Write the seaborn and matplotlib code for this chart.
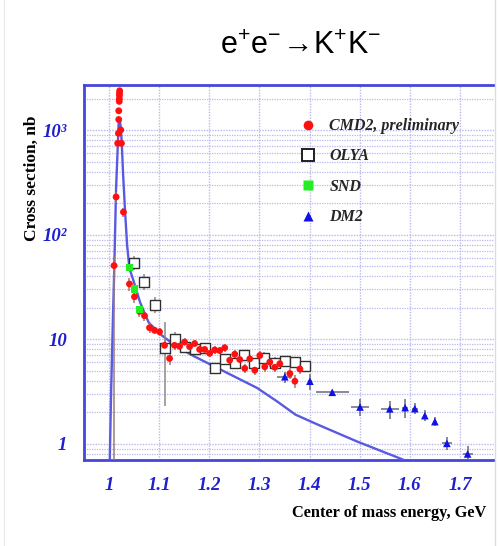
import numpy as np
import pandas as pd
import matplotlib
matplotlib.use("Agg")
import matplotlib.pyplot as plt
from matplotlib.lines import Line2D
from matplotlib.ticker import FixedLocator, NullFormatter, LogLocator
import seaborn as sns

# ---------------- data ----------------
# CMD2, preliminary (red circles)
cmd2_x = [1.0100, 1.0140, 1.0173, 1.0187, 1.0193, 1.0193, 1.0203, 1.0205, 1.0207, 1.0209, 1.0211,
          1.0233, 1.0247, 1.0287, 1.0407, 1.0507, 1.0607, 1.0707, 1.0807, 1.0907, 1.1007,
          1.1107, 1.1207, 1.1307, 1.1407, 1.1507, 1.1607, 1.1707, 1.1807, 1.1907, 1.2007,
          1.2107, 1.2207, 1.2307, 1.2407, 1.2507, 1.2607, 1.2707, 1.2807, 1.2907, 1.3007,
          1.3107, 1.3207, 1.3307, 1.3407, 1.3607, 1.3707, 1.3807]
cmd2_y = [50.7, 230, 750, 935, 1535, 1268, 1888, 2000, 2157, 2268, 2388,
          1007, 750, 165, 33.8, 25.5, 18.5, 16.8, 12.9, 12.2, 11.8,
          8.75, 6.56, 8.75, 8.6, 9.4, 8.5, 9.1, 8.0, 8.0, 7.35,
          7.9, 7.8, 8.3, 6.3, 7.2, 6.4, 5.27, 6.5, 5.07, 7.0,
          5.46, 6.05, 5.4, 5.84, 4.7, 3.97, 5.2]
cmd2_rel = [0.0, 0.12, 0.06, 0.06, 0.05, 0.05, 0.05, 0.05, 0.05, 0.05, 0.05,
            0.06, 0.06, 0.10, 0.15, 0.12, 0.12, 0.10, 0.10, 0.08, 0.08,
            0.12, 0.14, 0.10, 0.08, 0.10, 0.10, 0.08, 0.08, 0.08, 0.08,
            0.08, 0.08, 0.08, 0.10, 0.10, 0.10, 0.10, 0.10, 0.10, 0.10,
            0.10, 0.10, 0.10, 0.10, 0.12, 0.14, 0.10]

# OLYA (open squares)
olya_x = [1.0507, 1.0707, 1.0920, 1.1120, 1.1320, 1.1520, 1.1720, 1.1920, 1.2120, 1.2320,
          1.2520, 1.2700, 1.2900, 1.3100, 1.3307, 1.3507, 1.3707, 1.3907]
olya_y = [53.4, 35.6, 21.2, 8.3, 10.0, 8.5, 8.1, 8.3, 5.27, 6.5,
          5.97, 7.0, 5.88, 6.6, 5.97, 6.2, 6.05, 5.53]
olya_lo = [7, 6, 3.5, 6.0, 1.2, 1.0, 1.0, 1.0, 0.6, 0.8, 0.8, 0.8, 0.7, 0.8, 0.7, 0.7, 0.7, 0.7]
olya_hi = [9, 7, 4.0, 6.2, 1.8, 1.2, 1.0, 1.0, 0.6, 0.8, 0.8, 0.9, 0.7, 0.9, 0.8, 0.7, 0.7, 0.7]

# SND (green squares)
snd_x = [1.0407, 1.0507, 1.0607]
snd_y = [48.9, 30.3, 19.4]

# DM2 (blue triangles)
dm2_x = [1.3507, 1.4007, 1.4453, 1.5007, 1.5600, 1.5907, 1.6100, 1.6300, 1.6500, 1.6740, 1.7153]
dm2_y = [4.38, 3.97, 3.11, 2.25, 2.16, 2.22, 2.17, 1.86, 1.63, 1.01, 0.80]
dm2_rel = [0.12, 0.18, 0.06, 0.18, 0.20, 0.20, 0.12, 0.12, 0.10, 0.14, 0.18]
dm2_xerr = [0.015, 0.004, 0.033, 0.018, 0.018, 0.006, 0.006, 0.004, 0.004, 0.010, 0.010]

# fitted curve (blue line)
fit_x = [1.000, 1.004, 1.008, 1.010, 1.014, 1.018, 1.0195, 1.021, 1.0235, 1.0255, 1.028,
         1.032, 1.036, 1.0405, 1.049, 1.062, 1.079, 1.102, 1.135, 1.169, 1.202, 1.242,
         1.295, 1.335, 1.372, 1.420, 1.4953, 1.5853, 1.600]
fit_y = [0.3, 3, 18, 40, 277, 838, 1305, 1300, 1050, 722, 380,
         165, 80, 48, 36, 22.5, 14.5, 11.2, 8.5, 6.9, 5.75, 4.6,
         3.43, 2.55, 1.9, 1.5, 1.05, 0.71, 0.65]

xticks = [1.0, 1.1, 1.2, 1.3, 1.4, 1.5, 1.6, 1.7]
xticklabels = ["1", "1.1", "1.2", "1.3", "1.4", "1.5", "1.6", "1.7"]
yticks = [1, 10, 100, 1000]
yticklabels = ["1", "10", "10²", "10³"]

# ---------------- styling ----------------
sns.set_style("white")
plt.rcParams["mathtext.fontset"] = "custom"
plt.rcParams["mathtext.rm"] = "Liberation Sans"
plt.rcParams["mathtext.it"] = "Liberation Sans:italic"

AXBLUE = "#4646dc"
GRID = "#b8b8ec"
LBLUE = "#1f1fd0"

fig = plt.figure(figsize=(4.98, 5.46), dpi=100)
ax = fig.add_axes([84 / 498, 1 - 460 / 546, 410 / 498, 375 / 546])
ax.set_yscale("log")
ax.set_xlim(0.95, 1.768)
ax.set_ylim(0.70, 2710)

# grid
ax.set_xticks(xticks)
ax.xaxis.set_minor_locator(FixedLocator(np.round(np.arange(0.96, 1.77, 0.02), 3)))
ax.yaxis.set_minor_locator(LogLocator(base=10, subs=np.arange(2, 10), numticks=20))
ax.yaxis.set_minor_formatter(NullFormatter())
ax.grid(True, which="major", axis="both", color=GRID, ls=(0, (1, 1)), lw=1.0)
ax.grid(True, which="minor", axis="y", color=GRID, ls=(0, (1, 1)), lw=0.9)

# curve
fit_df = pd.DataFrame({"x": fit_x, "y": fit_y})
sns.lineplot(data=fit_df, x="x", y="y", ax=ax, color="#5a5ae0", lw=1.7,
             sort=False, estimator=None, zorder=3)

# error bars
cmd2_x_a = np.array(cmd2_x); cmd2_y_a = np.array(cmd2_y)
cmd2_err = cmd2_y_a * np.array(cmd2_rel)
cmd2_lo = cmd2_err.copy(); cmd2_hi = cmd2_err.copy()
cmd2_lo[0] = cmd2_y_a[0] - 0.3   # very large lower error for the threshold point
cmd2_hi[0] = 12
ax.errorbar(cmd2_x_a, cmd2_y_a, yerr=[cmd2_lo, cmd2_hi], fmt="none",
            ecolor="#9a7a7a", elinewidth=1.1, zorder=4)
ax.errorbar(olya_x, olya_y, yerr=[olya_lo, olya_hi], fmt="none",
            ecolor="#8a8a8a", elinewidth=1.1, zorder=4)
dm2_y_a = np.array(dm2_y)
ax.errorbar(dm2_x, dm2_y, yerr=dm2_y_a * np.array(dm2_rel), xerr=dm2_xerr, fmt="none",
            ecolor="#6a6a7a", elinewidth=1.1, zorder=4)

# markers
sns.scatterplot(x=olya_x, y=olya_y, ax=ax, marker="s", s=46, facecolor="white",
                edgecolor="#303030", linewidth=1.0, zorder=5)
sns.scatterplot(x=cmd2_x, y=cmd2_y, ax=ax, marker="o", s=24, color="#ff1010",
                edgecolor="none", zorder=6)
sns.scatterplot(x=snd_x, y=snd_y, ax=ax, marker="s", s=26, color="#22ee22",
                edgecolor="none", zorder=6)
sns.scatterplot(x=dm2_x, y=dm2_y, ax=ax, marker="^", s=30, color="#1010e8",
                edgecolor="none", zorder=6)

# axes styling
for side in ["top", "bottom", "left"]:
    ax.spines[side].set_color(AXBLUE)
    ax.spines[side].set_linewidth(2.0)
ax.spines["right"].set_visible(False)
ax.tick_params(axis="both", which="both", direction="in", color=AXBLUE)
ax.tick_params(axis="x", which="major", length=8, width=1.0, pad=12)
ax.tick_params(axis="x", which="minor", length=4, width=1.0)
ax.tick_params(axis="y", which="major", length=10, width=1.0, pad=12)
ax.tick_params(axis="y", which="minor", length=5, width=1.0)
ax.set_xticklabels(xticklabels)
ax.set_yticks(yticks)
ax.set_yticklabels(yticklabels)
for lab in ax.get_xticklabels() + ax.get_yticklabels():
    lab.set_fontfamily("Liberation Serif")
    lab.set_fontweight("bold")
    lab.set_fontstyle("italic")
    lab.set_fontsize(13.5)
    lab.set_color(LBLUE)
ax.set_xlabel("")
ax.set_ylabel("")

# legend
handles = [
    Line2D([], [], ls="none", marker="o", ms=7, mfc="#ff1010", mec="none"),
    Line2D([], [], ls="none", marker="s", ms=8, mfc="white", mec="#202020", mew=1.4),
    Line2D([], [], ls="none", marker="s", ms=7, mfc="#22ee22", mec="none"),
    Line2D([], [], ls="none", marker="^", ms=7, mfc="#1010e8", mec="none"),
]
labels = ["CMD2, preliminary", "OLYA", "SND", "DM2"]
ax.legend(handles, labels, loc="upper left", bbox_to_anchor=(0.493, 0.95),
          frameon=False, handlelength=1.0, handletextpad=0.8, labelspacing=0.9,
          prop=dict(family="Liberation Serif", weight="bold", style="italic", size=11.5))

# titles / labels
fig.text(301 / 498, 1 - 45 / 546, r"$\mathrm{e^{+}e^{-}\!\rightarrow\! K^{+}K^{-}}$",
         ha="center", va="center", fontsize=22, color="black")
fig.text(32 / 498, 1 - 178 / 546, "Cross section, nb", rotation=90, ha="center", va="center",
         family="Liberation Serif", weight="bold", fontsize=12.5, color="black")
fig.text(292 / 498, 1 - 513 / 546, "Center of mass energy, GeV", ha="left", va="center",
         family="Liberation Serif", weight="bold", fontsize=11.8, color="black")

# screenshot frame lines
fig.add_artist(Line2D([495 / 498, 495 / 498], [0, 1], color="#dcdcdc", lw=1.0))
fig.add_artist(Line2D([4 / 498, 4 / 498], [0, 1], color="#e8e8e8", lw=0.8))

fig.savefig("out.png", dpi=100)
